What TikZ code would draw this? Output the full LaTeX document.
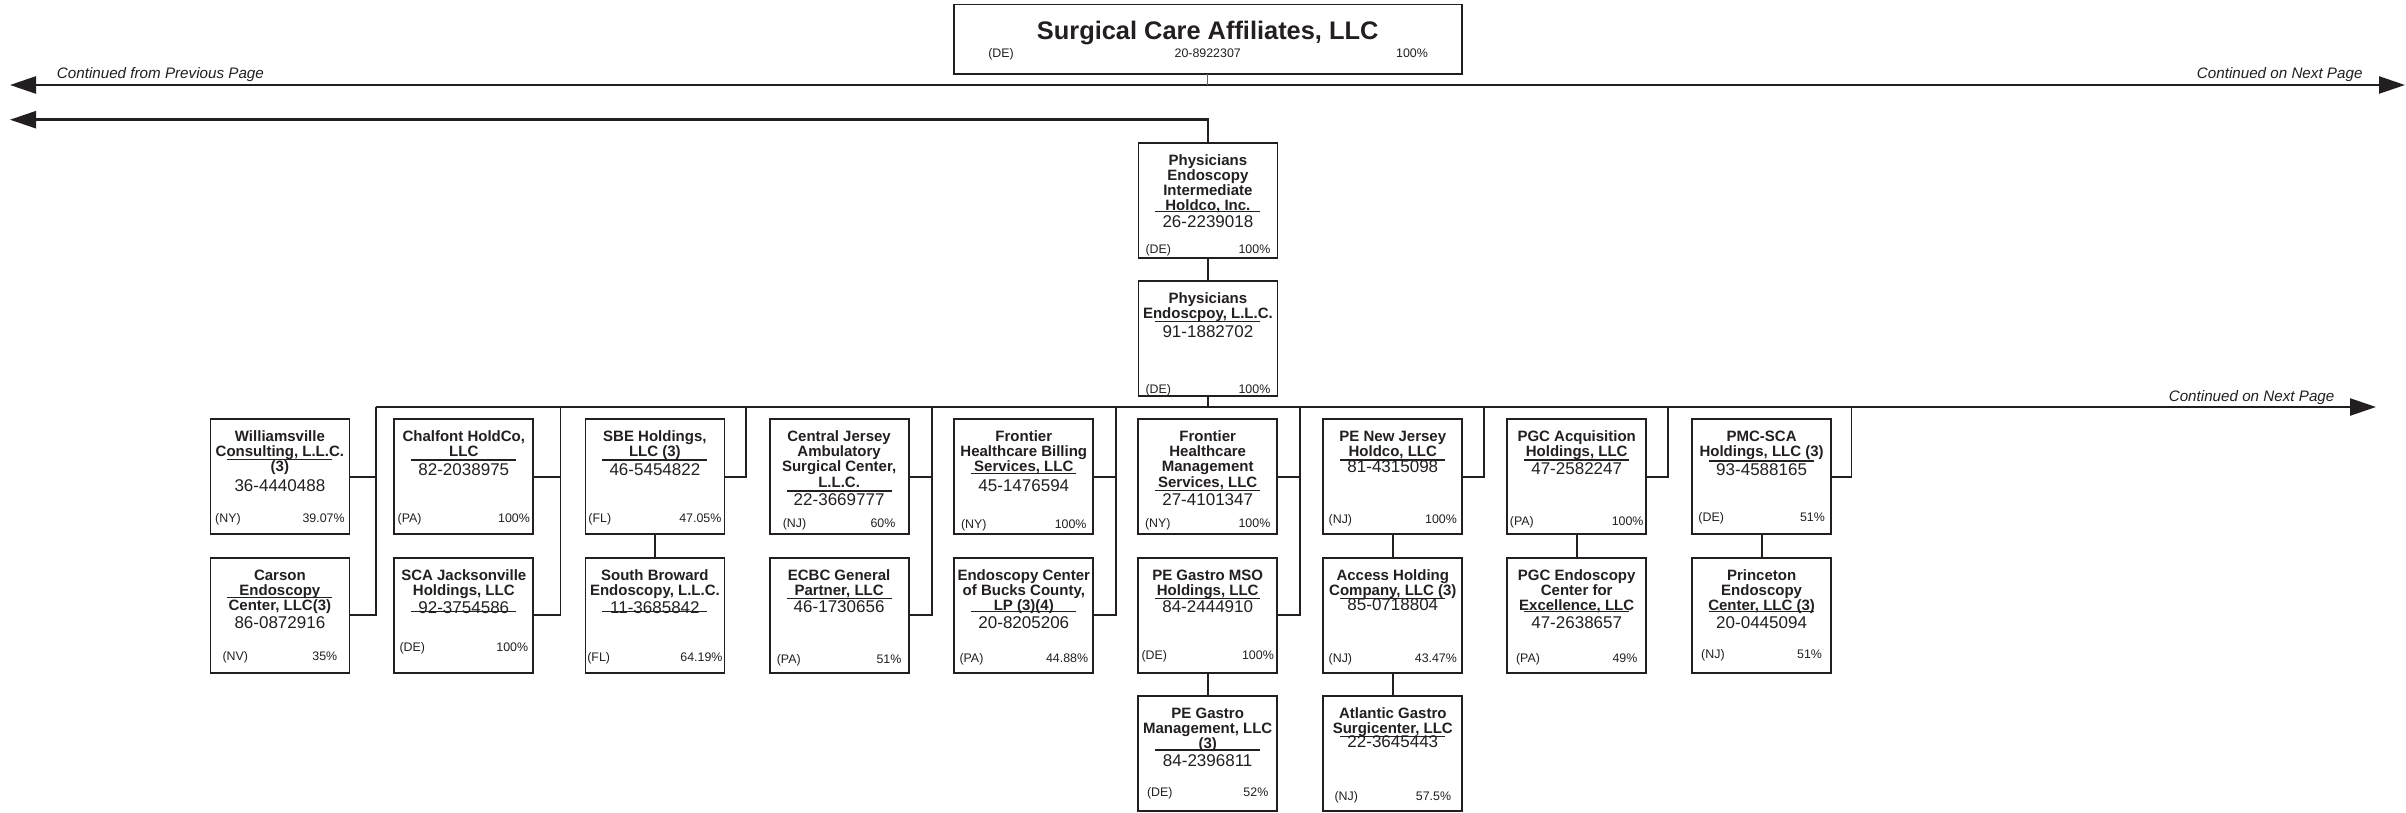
\documentclass[tikz,border=0pt]{standalone}
\usepackage{fontspec}
\setmainfont{Liberation Sans}
\usetikzlibrary{arrows.meta,calc}
\definecolor{ink}{RGB}{35,31,32}
\newcommand\ent[7]{%
  \node[entbox] (#1) at (#2,#3) {};
  \foreach \ttext [count=\i] in {#4} {
    \pgfmathsetmacro\ty{22.4+(\i-1)*15.25}
    \node[ttl] (#1-t\i) at ($(#1.north)+(0,\ty)$) {\ttext};
  }
  \node[einst] (#1-e) at ($(#1.north)+(0,#5+6.1)$) {#6};
  \draw[hrule] ($(#1.north west)+(17,#7)$) -- ($(#1.north east)+(-17,#7)$);
}
\newcommand\foot[5]{%
  \node[ft, anchor=base west] (#1-s) at ($(#1.south west)+(#4,-#5+4.5)$) {(#2)};
  \node[ft, anchor=base east] (#1-p) at ($(#1.south east)+(-#4,-#5+4.5)$) {#3};
}
\begin{document}
\begin{tikzpicture}[x=1pt,y=-1pt,
  entbox/.style={draw=ink, line width=1.8pt, minimum width=139pt, minimum height=115.3pt, inner sep=0pt, outer sep=0pt, anchor=north west},
  ttl/.style={font=\fontsize{15}{15}\selectfont\bfseries, text=ink, inner sep=0pt, anchor=base},
  einst/.style={font=\fontsize{17}{17}\selectfont, text=ink, inner sep=0pt, anchor=base},
  ft/.style={font=\fontsize{12.4}{12.4}\selectfont, text=ink, inner sep=0pt},
  hrule/.style={draw=ink, line width=1.4pt},
  conn/.style={draw=ink, line width=1.8pt},
  mainln/.style={draw=ink, line width=2.4pt},
  cont/.style={font=\fontsize{15.2}{15.2}\selectfont\itshape, text=ink, inner sep=0pt},
  >={Triangle[length=26pt,width=17pt]}
]
\useasboundingbox[fill=white] (0,0) rectangle (2406,813);

% top box
\node[draw=ink, line width=1.8pt, minimum width=508.2pt, minimum height=69.4pt, inner sep=0pt, outer sep=0pt, anchor=north west] (sca) at (953.6,4.6) {};
\node[font=\fontsize{25.4}{25.4}\selectfont\bfseries, text=ink, inner sep=0pt, anchor=base] (sca-t) at (1207.7,39.1) {Surgical Care Affiliates, LLC};
\node[ft, anchor=base] (sca-s) at (1001,57.8) {(DE)};
\node[ft, anchor=base] (sca-e) at (1207.7,57.8) {20-8922307};
\node[ft, anchor=base] (sca-p) at (1412,57.8) {100\%};

% main lines
\coordinate (la-l) at (10,85);
\coordinate (la-r) at (2405,85);
\draw[mainln,<->] (la-l) -- (la-r);
\draw[draw=ink!70, line width=1pt] (sca.south) -- (sca.south |- la-l);
\node[cont, anchor=base west] (c1) at (56.7,78.7) {Continued from Previous Page};
\node[cont, anchor=base east] (c2) at (2362.7,78.7) {Continued on Next Page};
\coordinate (lb-l) at (10,119.7);

% physicians chain
\ent{inter}{1138.4}{142.7}{Physicians,Endoscopy,Intermediate,{Holdco, Inc.}}{79}{26-2239018}{69}
\foot{inter}{DE}{100\%}{6.9}{9}
\ent{phy}{1138.4}{281}{Physicians,{Endoscpoy, L.L.C.}}{50}{91-1882702}{40.7}
\foot{phy}{DE}{100\%}{6.9}{7.7}
\draw[mainln,->] (inter.north) |- (lb-l);
\draw[conn] (inter.south) -- (phy.north);

% bus
\coordinate (bus-l) at (375.7,407);
\coordinate (bus-r) at (2376,407);
\draw[mainln,->] (bus-l) -- (bus-r);
\node[cont, anchor=base east] (c3) at (2334.6,401.1) {Continued on Next Page};
\draw[conn] (phy.south) -- (phy.south |- bus-l);

% row entities
\ent{wil}{210.4}{419}{Williamsville,{Consulting, L.L.C.},{(3)}}{66}{36-4440488}{40.3}
\foot{wil}{NY}{39.07\%}{4.6}{16.6}
\ent{car}{210.4}{557.7}{Carson,Endoscopy,{Center, LLC(3)}}{65}{86-0872916}{39.6}
\foot{car}{NV}{35\%}{12}{16.7}

\ent{chal}{394.3}{419}{{Chalfont HoldCo,},LLC}{50}{82-2038975}{41}
\foot{chal}{PA}{100\%}{3.2}{16}
\ent{scaj}{394.3}{557.7}{SCA Jacksonville,{Holdings, LLC}}{49.6}{92-3754586}{54}
\foot{scaj}{DE}{100\%}{5}{26}

\ent{sbe}{585.4}{419}{{SBE Holdings,},{LLC (3)}}{50}{46-5454822}{41}
\foot{sbe}{FL}{47.05\%}{2.8}{16}
\ent{sbr}{585.4}{557.7}{South Broward,{Endoscopy, L.L.C.}}{49.6}{11-3685842}{54}
\foot{sbr}{FL}{64.19\%}{1.7}{16}

\ent{cj}{769.6}{419}{Central Jersey,Ambulatory,{Surgical Center,},L.L.C.}{80.3}{22-3669777}{72}
\foot{cj}{NJ}{60\%}{13}{11.6}
\ent{ecbc}{769.6}{557.7}{ECBC General,{Partner, LLC}}{49}{46-1730656}{40.6}
\foot{ecbc}{PA}{51\%}{7}{14.4}

\ent{fb}{954.3}{419}{Frontier,Healthcare Billing,{Services, LLC}}{66}{45-1476594}{54.3}
\foot{fb}{NY}{100\%}{6.6}{10.3}
\ent{bucks}{954.3}{557.7}{Endoscopy Center,{of Bucks County,},{LP (3)(4)}}{65}{20-8205206}{54}
\foot{bucks}{PA}{44.88\%}{5}{15.4}

\ent{fm}{1138.2}{419}{Frontier,Healthcare,Management,{Services, LLC}}{80.3}{27-4101347}{71.7}
\foot{fm}{NY}{100\%}{6.7}{11.6}
\ent{mso}{1138.2}{557.7}{PE Gastro MSO,{Holdings, LLC}}{49}{84-2444910}{41}
\foot{mso}{DE}{100\%}{3.2}{17.7}
\ent{pgm}{1138.2}{695.7}{PE Gastro,{Management, LLC},{(3)}}{64.3}{84-2396811}{54.3}
\foot{pgm}{DE}{52\%}{8.7}{18.7}

\ent{penj}{1323.3}{419}{PE New Jersey,{Holdco, LLC}}{47.7}{81-4315098}{41}
\foot{penj}{NJ}{100\%}{5.2}{15.3}
\ent{acc}{1323.3}{557.7}{Access Holding,{Company, LLC (3)}}{46.3}{85-0718804}{40.6}
\foot{acc}{NJ}{43.47\%}{5.2}{15}
\ent{atl}{1323.3}{695.7}{Atlantic Gastro,{Surgicenter, LLC}}{46}{22-3645443}{41}
\foot{atl}{NJ}{57.5\%}{11}{15}

\ent{pgca}{1507.2}{419}{PGC Acquisition,{Holdings, LLC}}{49.3}{47-2582247}{41}
\foot{pgca}{PA}{100\%}{2.5}{13.6}
\ent{pgce}{1507.2}{557.7}{PGC Endoscopy,Center for,{Excellence, LLC}}{65}{47-2638657}{54}
\foot{pgce}{PA}{49\%}{8.7}{15}

\ent{pmc}{1692.1}{419}{PMC-SCA,{Holdings, LLC (3)}}{50.3}{93-4588165}{42}
\foot{pmc}{DE}{51\%}{6.1}{17.6}
\ent{prn}{1692.1}{557.7}{Princeton,Endoscopy,{Center, LLC (3)}}{65}{20-0445094}{54}
\foot{prn}{NJ}{51\%}{8.9}{18.7}

% group connectors to bus
\coordinate (v1) at (375.7,407);
\coordinate (v2) at (560.4,407);
\coordinate (v3) at (746,407);
\coordinate (v4) at (931.8,407);
\coordinate (v5) at (1115.7,407);
\coordinate (v6) at (1299.6,407);
\coordinate (v7) at (1484.2,407);
\coordinate (v8) at (1668.1,407);
\coordinate (v9) at (1851.5,407);
\draw[conn] (wil.east) -| (v1);
\draw[conn] (car.east) -| (v1);
\draw[conn] (chal.east) -| (v2);
\draw[conn] (scaj.east) -| (v2);
\draw[conn] (sbe.east) -| (v3);
\draw[conn] (cj.east) -| (v4);
\draw[conn] (ecbc.east) -| (v4);
\draw[conn] (fb.east) -| (v5);
\draw[conn] (bucks.east) -| (v5);
\draw[conn] (fm.east) -| (v6);
\draw[conn] (mso.east) -| (v6);
\draw[conn] (penj.east) -| (v7);
\draw[conn] (pgca.east) -| (v8);
\draw[conn] (pmc.east) -| (v9);

% parent-child verticals
\draw[conn] (sbe.south) -- (sbr.north);
\draw[conn] (mso.south) -- (pgm.north);
\draw[conn] (penj.south) -- (acc.north);
\draw[conn] (acc.south) -- (atl.north);
\draw[conn] (pgca.south) -- (pgce.north);
\draw[conn] (pmc.south) -- (prn.north);
\end{tikzpicture}
\end{document}
